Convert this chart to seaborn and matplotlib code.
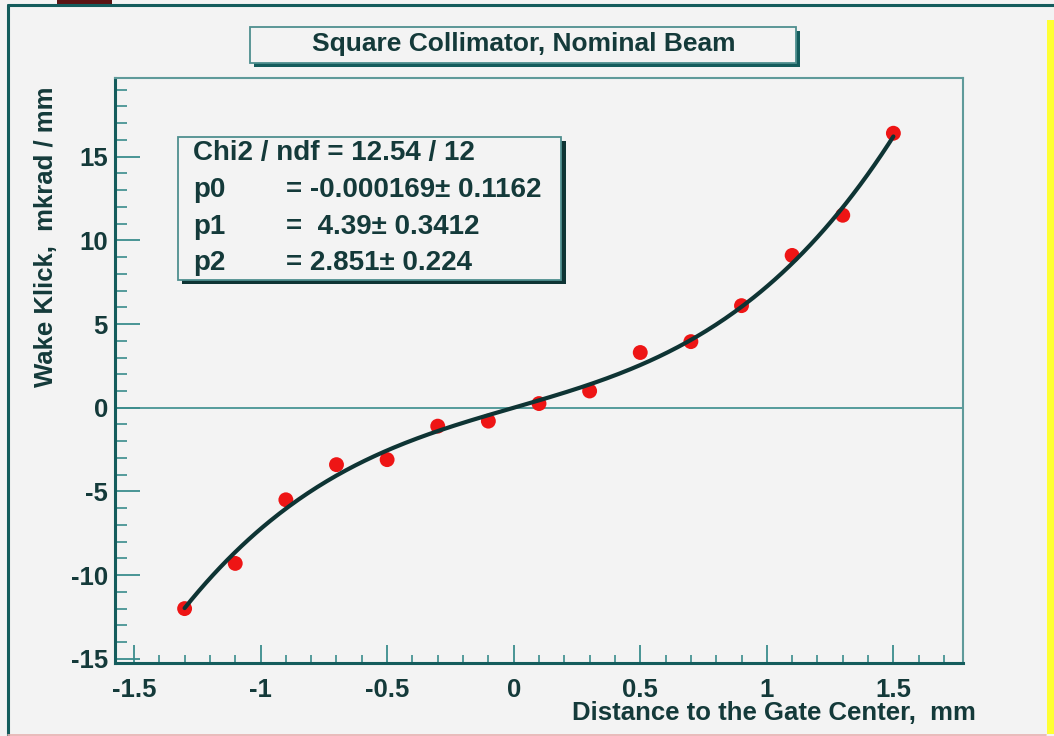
import numpy as np
import pandas as pd
import matplotlib
matplotlib.use("Agg")
import matplotlib.pyplot as plt
from matplotlib.patches import Rectangle
from matplotlib.lines import Line2D
from matplotlib.ticker import MultipleLocator
import seaborn as sns

# ---- data ----
distance_mm = [-1.3, -1.1, -0.9, -0.7, -0.5, -0.3, -0.1, 0.1, 0.3, 0.5, 0.7, 0.9, 1.1, 1.3, 1.5]
wake_kick = [-12.0, -9.3, -5.5, -3.4, -3.1, -1.1, -0.8, 0.25, 1.0, 3.3, 3.95, 6.1, 9.1, 11.5, 16.4]
fit_p0, fit_p1, fit_p2 = -0.000169, 4.39, 2.851
fit_range = (-1.3, 1.5)
title_text = "Square Collimator, Nominal Beam"
stats_lines = [("Chi2 / ndf = 12.54 / 12", ""),
               ("p0", "= -0.000169\u00b1 0.1162"),
               ("p1", "=  4.39\u00b1 0.3412"),
               ("p2", "= 2.851\u00b1 0.224")]
xtick_vals = [-1.5, -1.0, -0.5, 0.0, 0.5, 1.0, 1.5]
xtick_labels = ["-1.5", "-1", "-0.5", "0", "0.5", "1", "1.5"]
ytick_vals = [-15, -10, -5, 0, 5, 10, 15]
ytick_labels = ["-15", "-10", "-5", "0", "5", "10", "15"]
xlabel_text = "Distance to the Gate Center,  mm"
ylabel_text = "Wake Klick,  mkrad / mm"

W, H = 1054, 736
TEAL = "#145c5c"
TXT = "#143a3a"
BG = "#f3f3f3"
TICKC = "#3a8c8c"

sns.set_theme(style="white")
plt.rcParams["font.family"] = ["Liberation Sans", "DejaVu Sans"]
plt.rcParams["font.weight"] = "bold"

fig = plt.figure(figsize=(W / 100, H / 100), dpi=100, facecolor=BG)

def fx(px):
    return px / W

def fy(py):
    return 1 - py / H

# outer frame (left, top teal; bottom light)
fig.add_artist(Line2D([fx(8), fx(8)], [fy(5), fy(736)], transform=fig.transFigure,
                      color=TEAL, lw=2.2))
fig.add_artist(Line2D([fx(8), fx(1054)], [fy(5), fy(5)], transform=fig.transFigure,
                      color=TEAL, lw=2.2))
fig.add_artist(Line2D([fx(8), fx(1046)], [fy(734.5), fy(734.5)], transform=fig.transFigure,
                      color="#e8b0b0", lw=1.2))
fig.add_artist(Rectangle((fx(1047), fy(734)), fx(7), fy(20) - fy(734),
                         transform=fig.transFigure, fc="#ffff33", ec="none"))
fig.add_artist(Rectangle((fx(57), fy(4)), fx(55), fy(0) - fy(4),
                         transform=fig.transFigure, fc="#5a1212", ec="none"))

ax = fig.add_axes([fx(115), fy(663), fx(963) - fx(115), fy(78) - fy(663)])
ax.set_facecolor(BG)

df = pd.DataFrame({"x": distance_mm, "y": wake_kick})
xf = np.linspace(fit_range[0], fit_range[1], 300)
fit_df = pd.DataFrame({"x": xf, "y": fit_p0 + fit_p1 * xf + fit_p2 * xf ** 3})

ax.axhline(0, color=TICKC, lw=1.2, zorder=1)
sns.scatterplot(data=df, x="x", y="y", ax=ax, color="#ee1515", s=115,
                edgecolor="none", zorder=2, legend=False)
sns.lineplot(data=fit_df, x="x", y="y", ax=ax, color="#0e3434", lw=3, zorder=3)

ax.set_xlim(-1.575, 1.775)
ax.set_ylim(-15.25, 19.7)
ax.xaxis.set_minor_locator(MultipleLocator(0.1))
ax.yaxis.set_minor_locator(MultipleLocator(1))
ax.set_xticks(xtick_vals)
ax.set_xticklabels(xtick_labels)
ax.set_yticks(ytick_vals)
ax.set_yticklabels(ytick_labels)
ax.tick_params(axis="x", which="major", direction="in", length=13, width=1.3,
               color=TICKC, labelsize=18.5, labelcolor=TXT, pad=11, bottom=True, top=False)
ax.tick_params(axis="x", which="minor", direction="in", length=6, width=1.2,
               color=TICKC, bottom=True, top=False)
ax.tick_params(axis="y", which="major", direction="in", length=18, width=1.3,
               color=TICKC, labelsize=18.5, labelcolor=TXT, pad=5, left=True, right=False)
ax.tick_params(axis="y", which="minor", direction="in", length=8.5, width=1.2,
               color=TICKC, left=True, right=False)
for lab in ax.get_xticklabels() + ax.get_yticklabels():
    lab.set_fontweight("bold")
ax.set_xlabel("")
ax.set_ylabel("")
for side in ["left", "bottom"]:
    ax.spines[side].set_color(TEAL)
    ax.spines[side].set_linewidth(2.2)
for side in ["top", "right"]:
    ax.spines[side].set_color("#5f9a9a")
    ax.spines[side].set_linewidth(1.5)

# axis titles
fig.text(fx(976), fy(713), xlabel_text, ha="right", va="center", fontsize=18.5,
         fontweight="bold", color=TXT)
fig.text(fx(46), fy(237), ylabel_text, ha="center", va="center", rotation=90,
         fontsize=18.5, fontweight="bold", color=TXT)

# title box with shadow
fig.add_artist(Rectangle((fx(254), fy(67)), fx(800) - fx(254), fy(31) - fy(67),
                         transform=fig.transFigure, fc=TEAL, ec="none"))
fig.add_artist(Rectangle((fx(250), fy(63)), fx(796) - fx(250), fy(27) - fy(63),
                         transform=fig.transFigure, fc=BG, ec="#4f8f8f", lw=1.3))
fig.text(fx(524), fy(44), title_text, ha="center", va="center", fontsize=19,
         fontweight="bold", color=TXT)

# stats box with shadow
fig.add_artist(Rectangle((fx(182), fy(284)), fx(566) - fx(182), fy(141) - fy(284),
                         transform=fig.transFigure, fc="#0e3434", ec="none"))
fig.add_artist(Rectangle((fx(178), fy(280)), fx(561) - fx(178), fy(137) - fy(280),
                         transform=fig.transFigure, fc=BG, ec="#4f8f8f", lw=1.3))
ys = [153, 190, 227, 263]
for (left, right), yy in zip(stats_lines, ys):
    fig.text(fx(193), fy(yy), left, ha="left", va="center", fontsize=20,
             fontweight="bold", color=TXT)
    if right:
        fig.text(fx(286), fy(yy), right, ha="left", va="center", fontsize=20,
                 fontweight="bold", color=TXT)

fig.savefig("out.png", dpi=100, facecolor=BG)
